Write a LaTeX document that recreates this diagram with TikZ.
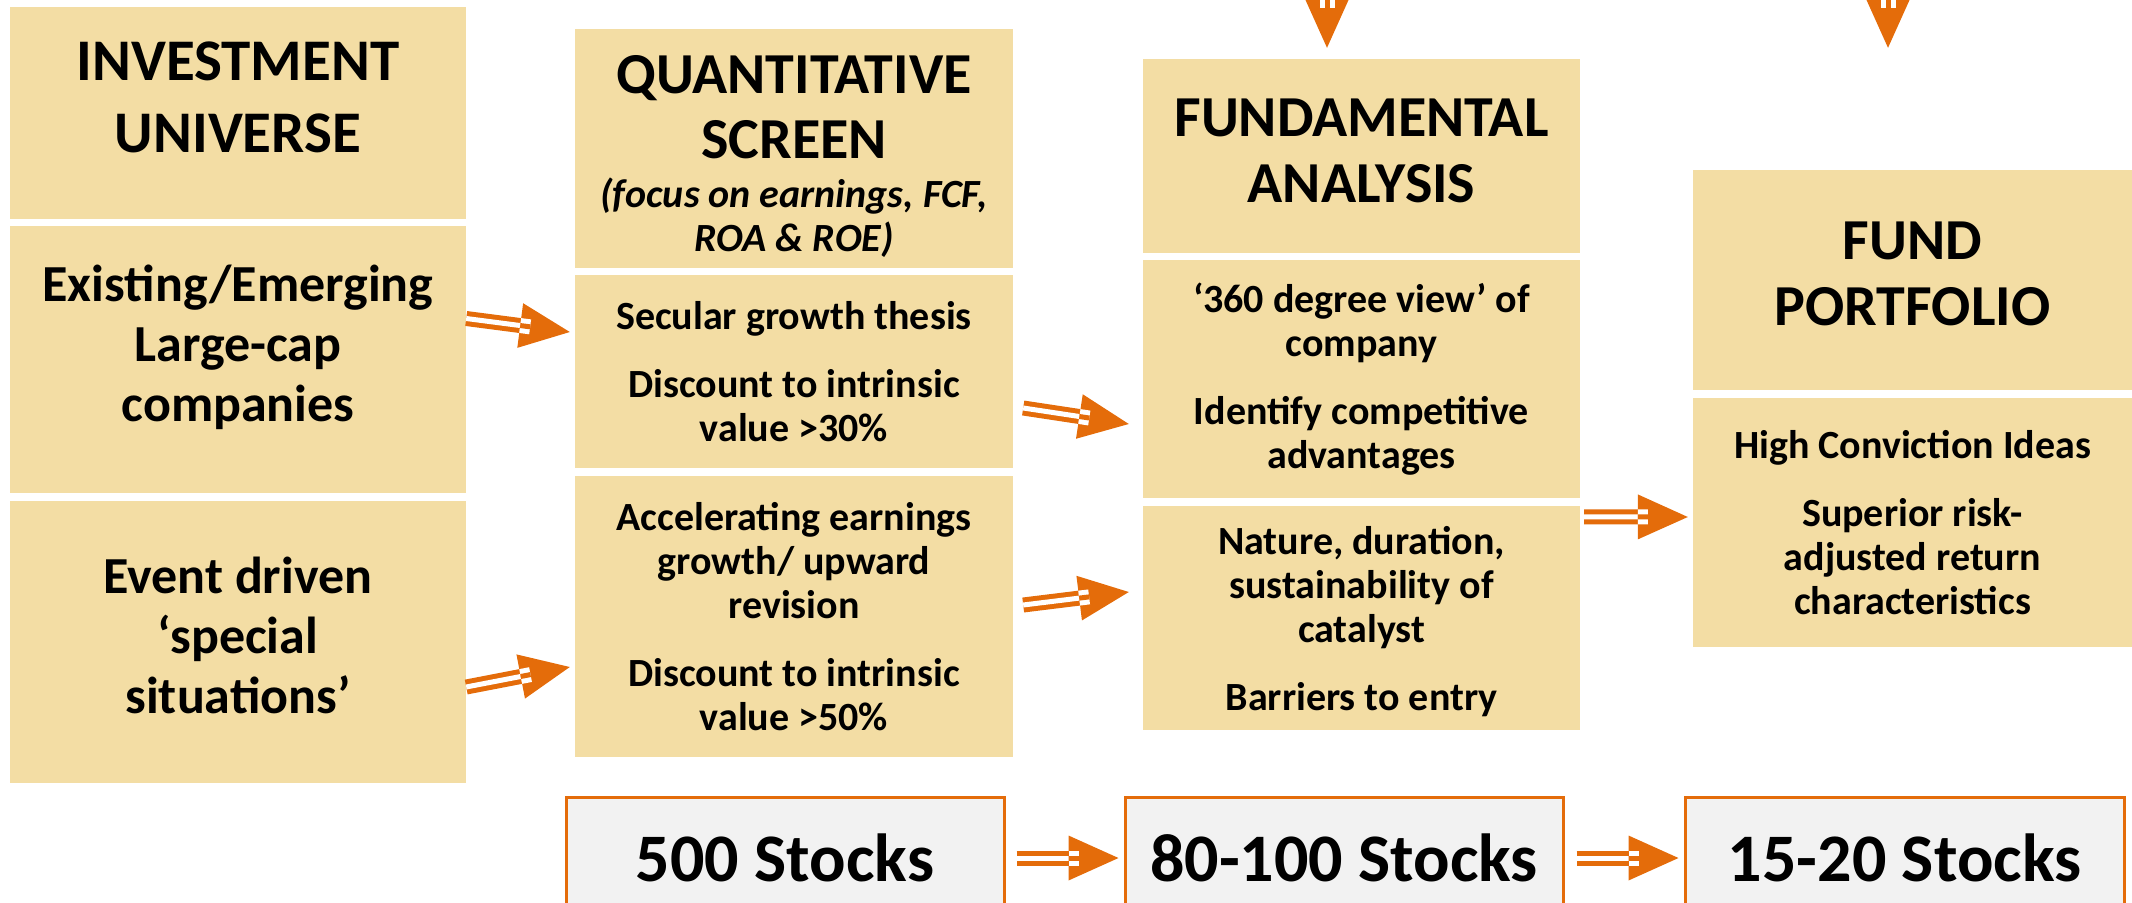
\documentclass[tikz,border=0pt]{standalone}
\usepackage{fontspec}
\setmainfont{Carlito}
\usetikzlibrary{calc}
\definecolor{tanBox}{RGB}{243,221,164}
\definecolor{arrowOrange}{RGB}{228,108,10}
\definecolor{stockGrey}{RGB}{242,242,242}

\newcommand{\titleFont}{\fontsize{58}{66}\selectfont\bfseries}
\newcommand{\bigFont}{\fontsize{52}{60}\selectfont\bfseries}
\newcommand{\bodyFont}{\fontsize{40}{44}\selectfont\bfseries}
\newcommand{\stockFont}{\fontsize{68}{80}\selectfont\bfseries}

% striped block arrow from #1 to the tip #2
\newcommand{\stripedArrow}[2]{%
  \draw[arrowShaft] (#1) -- ($(#2)!50pt!(#1)$);
  \fill[arrowOrange] ($(#2)!50pt!(#1)$) coordinate (headBase)
    ($(headBase)!22.5pt!90:(#2)$) -- (#2) -- ($(headBase)!22.5pt!-90:(#2)$) -- cycle;
  \draw[arrowNotch] (headBase) -- ($(headBase)!10pt!(#2)$);
}

\begin{document}
\begin{tikzpicture}[x=1pt,y=-1pt,
    stage/.style={fill=tanBox, inner sep=0pt, align=center, text=black},
    stocks/.style={fill=stockGrey, draw=arrowOrange, line width=3pt, inner sep=0pt,
      minimum width=438pt, minimum height=122pt, font=\stockFont},
    arrowShaft/.style={draw=arrowOrange, double=white, line width=5pt, double distance=5pt},
    arrowNotch/.style={draw=white, double=arrowOrange, line width=5pt, double distance=5pt}]
  \useasboundingbox (0,0) rectangle (2132,902);
  \clip (0,0) rectangle (2132,902);

  % investment universe
  \node[stage, minimum width=456pt, minimum height=212pt, text depth=32pt,
    font=\fontsize{59}{72}\selectfont\bfseries] (univ) at (238,113)
    {INVESTMENT\\UNIVERSE};
  \node[stage, minimum width=456pt, minimum height=267pt, text depth=33pt, font=\bigFont] (exist) at (238,359.5)
    {Existing/Emerging\\Large-cap\\companies};
  \node[stage, minimum width=456pt, minimum height=282pt, text depth=14pt, font=\bigFont] (event) at (238,642)
    {Event driven\\‘special\\situations’};

  % quantitative screen
  \node[stage, minimum width=438pt, minimum height=239pt] (quant) at (794,148.5) {};
  \node[align=center, font=\fontsize{58}{65}\selectfont\bfseries] (quantTitle) at (794,107)
    {QUANTITATIVE\\SCREEN};
  \node[align=center, font=\bodyFont\itshape] (quantNote) at (794,218)
    {(focus on earnings, FCF,\\ROA \& ROE)};
  \node[stage, minimum width=438pt, minimum height=193pt, font=\bodyFont] (secular) at (794,371.5)
    {Secular growth thesis\\[24pt]Discount to intrinsic\\value >30\%};
  \node[stage, minimum width=438pt, minimum height=281pt, font=\bodyFont] (accel) at (794,616.5)
    {Accelerating earnings\\growth/ upward\\revision\\[24pt]Discount to intrinsic\\value >50\%};

  % fundamental analysis
  \node[stage, minimum width=437pt, minimum height=194pt, text depth=10pt, font=\titleFont] (fund) at (1361.5,156)
    {FUNDAMENTAL\\ANALYSIS};
  \node[stage, minimum width=437pt, minimum height=238pt, font=\bodyFont] (view) at (1361.5,379)
    {‘360 degree view’ of\\company\\[24pt]Identify competitive\\advantages};
  \node[stage, minimum width=437pt, minimum height=224pt, text depth=0pt, font=\bodyFont] (nature) at (1361.5,618)
    {Nature, duration,\\sustainability of\\catalyst\\[24pt]Barriers to entry};

  % fund portfolio
  \node[stage, minimum width=439pt, minimum height=220pt, text depth=12pt, font=\titleFont] (port) at (1912.5,280)
    {FUND\\PORTFOLIO};
  \node[stage, minimum width=439pt, minimum height=249pt, font=\bodyFont] (ideas) at (1912.5,522.5)
    {High Conviction Ideas\\[24pt]Superior risk-\\adjusted return\\characteristics};

  % stock counts
  \node[stocks] (st500) at (785,858) {500 Stocks};
  \node[stocks] (st80) at (1344,858) {80-100 Stocks};
  \node[stocks, minimum width=439pt] (st15) at (1904.5,858) {15-20 Stocks};

  % arrow ends
  \coordinate (existOut) at ($(exist.east)+(0,-41)$);
  \coordinate (secularIn) at ($(secular.west)+(-5,-39.5)$);
  \coordinate (eventOut) at ($(event.east)+(0,45)$);
  \coordinate (accelIn) at ($(accel.west)+(-5,50.5)$);
  \coordinate (secularOut) at ($(secular.east)+(10,36.5)$);
  \coordinate (viewIn) at ($(view.west)+(-14,45)$);
  \coordinate (accelOut) at ($(accel.east)+(10,-11.5)$);
  \coordinate (natureIn) at ($(nature.west)+(-14,-26)$);
  \coordinate (natureOut) at ($(nature.north east)+(4,11)$);
  \coordinate (ideasIn) at ($(ideas.west)+(-5,-5.5)$);
  \coordinate (st500Out) at ($(st500.east)+(11,0)$);
  \coordinate (st80In) at ($(st80.west)+(-5,0)$);
  \coordinate (st80Out) at ($(st80.east)+(12,0)$);
  \coordinate (st15In) at ($(st15.west)+(-5,0)$);
  \coordinate (fundFeed) at (1327,-60);
  \coordinate (fundIn) at ($(fund.north)+(-34.5,-11)$);
  \coordinate (portFeed) at (1888,-60);
  \coordinate (portIn) at ($(port.north)+(-24.5,-122)$);

  % arrows
  \stripedArrow{existOut}{secularIn}
  \stripedArrow{eventOut}{accelIn}
  \stripedArrow{secularOut}{viewIn}
  \stripedArrow{accelOut}{natureIn}
  \stripedArrow{natureOut}{ideasIn}
  \stripedArrow{st500Out}{st80In}
  \stripedArrow{st80Out}{st15In}
  \stripedArrow{fundFeed}{fundIn}
  \stripedArrow{portFeed}{portIn}
\end{tikzpicture}
\end{document}
